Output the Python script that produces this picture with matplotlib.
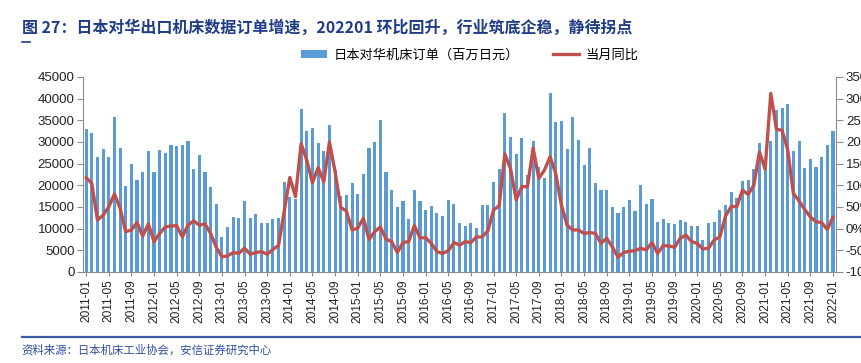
import matplotlib

matplotlib.use("Agg")

import matplotlib.pyplot as plt
from matplotlib.lines import Line2D
from matplotlib.patches import Patch
import numpy as np

plt.rcParams["font.family"] = ["Liberation Sans", "DejaVu Sans"]
CJK = ["Noto Sans CJK SC", "DejaVu Sans"]

# 日本对华机床订单（百万日元）, 2011-01 .. 2022-01
orders = [
    33000, 32000, 26600, 28300, 26500, 35800, 28700, 19800, 25000, 21200, 23100, 28000,
    23000, 28100, 27500, 29400, 29000, 29300, 30300, 23700, 27000, 23100, 19700, 15700,
    8000, 10400, 12700, 12500, 16400, 12400, 13300, 11300, 11400, 12300, 12400, 20700,
    17400, 16800, 37500, 32600, 33300, 29800, 28000, 33900, 23500, 17500, 17700, 20600,
    17900, 22600, 28600, 30100, 35000, 23000, 18900, 15000, 16300, 12300, 18900, 16300,
    14400, 15200, 13500, 13000, 16700, 15700, 11400, 10700, 11400, 10100, 15400, 15400,
    20700, 23700, 36700, 31200, 27200, 30900, 22400, 30300, 24300, 21600, 41200, 34600,
    34800, 28300, 35800, 30400, 24600, 28500, 20500, 18900, 18900, 15100, 13600, 15100,
    16600, 14000, 20100, 15700, 16800, 11500, 12300, 11300, 11000, 12000, 11500, 10700,
    10700, 7400, 11300, 11500, 14200, 15400, 18400, 17100, 20900, 21200, 23700, 29700,
    24000, 30200, 37300, 37800, 38800, 28000, 30300, 24000, 26000, 24200, 26500, 29300,
    32600,
]

# 当月同比 (%)
yoy = [
    118, 104, 20, 31, 50, 80, 47, -7, -3, 14, -17, 11,
    -30, -11, 4, 6, 7, -19, 8, 18, 8, 11, -11, -43,
    -65, -63, -55, -57, -45, -59, -55, -53, -59, -48, -39, 40,
    118, 74, 196, 158, 106, 141, 108, 200, 131, 49, 41, -3,
    1, 24, -25, -7, 4, -24, -30, -55, -32, -30, 7, -21,
    -21, -34, -53, -57, -51, -32, -38, -30, -32, -19, -19, -5,
    43, 53, 172, 139, 66, 97, 97, 186, 116, 135, 166, 127,
    54, 8, -3, -3, -11, -9, -11, -34, -22, -42, -66, -55,
    -52, -51, -45, -49, -32, -57, -39, -40, -43, -22, -15, -30,
    -34, -47, -45, -26, -19, 29, 51, 51, 89, 79, 100, 177,
    137, 312, 229, 227, 181, 81, 64, 44, 27, 16, 14, -2,
    27,
]

months = [f"{y}-{m:02d}" for y in range(2011, 2023) for m in range(1, 13)][: len(orders)]

BLUE = "#5B9BD5"
RED = "#C0504D"
NAVY = "#1F3C88"
AXIS = "#8C8C8C"

fig = plt.figure(figsize=(8.62, 3.63), dpi=100)
ax = fig.add_axes([0.0963, 0.2507, 0.8737, 0.5373])
ax2 = ax.twinx()

x = np.arange(len(orders))
ax.bar(x, orders, width=0.55, color=BLUE, zorder=2)
ax2.plot(x, yoy, color=RED, linewidth=2.4, solid_joinstyle="round", solid_capstyle="round")

ax.set_xlim(-0.55, len(orders) - 0.45)
ax.set_ylim(0, 45000)
ax.set_yticks(np.arange(0, 45001, 5000))
ax2.set_ylim(-100, 350)
ax2.set_yticks(np.arange(-100, 351, 50))
ax2.set_yticklabels([f"{v}%" for v in range(-100, 351, 50)])

ax.set_xticks(x[::4])
ax.set_xticklabels([months[i] for i in x[::4]], rotation=90)

for a in (ax, ax2):
    a.spines["top"].set_visible(False)
    for s in ("left", "right", "bottom"):
        a.spines[s].set_color(AXIS)
        a.spines[s].set_linewidth(0.8)
ax.spines["right"].set_visible(False)
ax2.spines["left"].set_visible(False)
ax2.spines["bottom"].set_visible(False)

ax.tick_params(axis="y", labelsize=9.5, colors="#222222", length=4, color=AXIS, pad=2)
ax.tick_params(axis="x", labelsize=8.6, colors="#222222", length=3, color=AXIS, pad=2)
ax2.tick_params(axis="y", labelsize=9.5, colors="#222222", length=5, color=AXIS, pad=2)

fig.text(0.0255, 0.925, "图 27：日本对华出口机床数据订单增速，202201 环比回升，行业筑底企稳，静待拐点",
         family=CJK, fontsize=11.5, fontweight="bold", color=NAVY, va="center", ha="left")
fig.add_artist(Line2D([0.0255, 0.035], [0.885, 0.885], color=NAVY, linewidth=1.2))

handles = [
    Patch(facecolor=BLUE, edgecolor="none"),
    Line2D([0], [0], color=RED, linewidth=2.4),
]
fig.legend(handles, ["日本对华机床订单（百万日元）", "当月同比"], loc="center",
           bbox_to_anchor=(0.545, 0.848), ncol=2, frameon=False,
           prop={"family": CJK, "size": 9.5}, handlelength=2.0, handleheight=0.5,
           columnspacing=2.5, handletextpad=0.5)

fig.add_artist(Line2D([0.0255, 1.0], [0.0716, 0.0716], color="#3A5BA0", linewidth=1.6))
fig.text(0.0255, 0.035, "资料来源：日本机床工业协会，安信证券研究中心",
         family=CJK, fontsize=8.2, color="#2F4E9E", va="center", ha="left", style="italic")

fig.savefig("out.png", dpi=100)
